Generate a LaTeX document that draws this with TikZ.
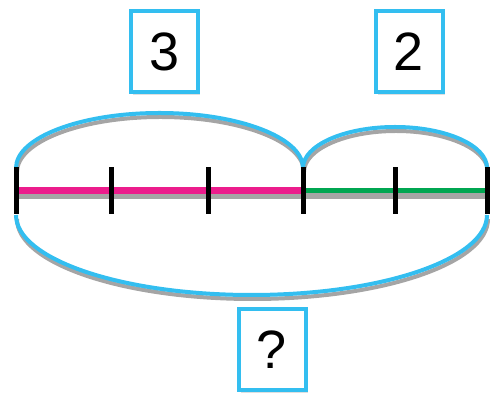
\documentclass[tikz,border=0pt]{standalone}
\usepackage{fontspec}
\setmainfont{Liberation Sans}
\usetikzlibrary{shadows}
\definecolor{skyblue}{RGB}{51,190,240}
\definecolor{barpink}{RGB}{236,28,140}
\definecolor{bargreen}{RGB}{0,166,81}
\definecolor{shadegray}{RGB}{165,165,165}

\begin{document}
\begin{tikzpicture}[x=1pt,y=1pt,
    numbox/.style={draw=skyblue, line width=4pt, fill=white,
        minimum width=67pt, minimum height=81pt, inner sep=0pt,
        font=\fontsize{54}{54}\selectfont,
        drop shadow={shadow xshift=2pt, shadow yshift=-3pt, opacity=0.25}},
    bracket/.style={draw=skyblue, line width=4pt},
    bracketshade/.style={draw=shadegray, line width=4pt},
    tickmark/.style={line width=5pt}]
        \useasboundingbox (0,0) rectangle (492,395);

        \node[numbox] (3) at (164.5,343.5) {3};
        \node[numbox] (2) at (409,343.5) {2};
        \node[numbox] (q) at (272,45.5) {?};

        \coordinate (0)  at (16,204);
        \coordinate (1)  at (111,204);
        \coordinate (2t) at (208,204);
        \coordinate (3t) at (303,204);
        \coordinate (4)  at (395,204);
        \coordinate (5)  at (487,204);

        % bar
        \draw[shadegray, line width=8pt] ([yshift=-4.5pt]0) -- ([yshift=-4.5pt]5);
        \draw[barpink, line width=7pt] (0) -- (3t);
        \draw[bargreen, line width=5pt] (3t) -- (5);

        % brackets
        \draw[bracketshade] ([shift={(1,-4)}]0) ++(0,23) arc[start angle=180, end angle=0, x radius=143.5, y radius=55];
        \draw[bracketshade] ([shift={(1,-4)}]3t) ++(0,23) arc[start angle=180, end angle=0, x radius=92, y radius=41];
        \draw[bracketshade] ([shift={(1,-4)}]0) ++(0,-24) arc[start angle=180, end angle=360, x radius=235.5, y radius=80];
        \draw[bracket] (0) ++(0,23) arc[start angle=180, end angle=0, x radius=143.5, y radius=55];
        \draw[bracket] (3t) ++(0,23) arc[start angle=180, end angle=0, x radius=92, y radius=41];
        \draw[bracket] (0) ++(0,-24) arc[start angle=180, end angle=360, x radius=235.5, y radius=80];

        % ticks
        \foreach \t in {0,1,2t,3t,4,5}
            \draw[tickmark] ([yshift=23.5pt]\t) -- ([yshift=-23.5pt]\t);
    \end{tikzpicture}
\end{document}
